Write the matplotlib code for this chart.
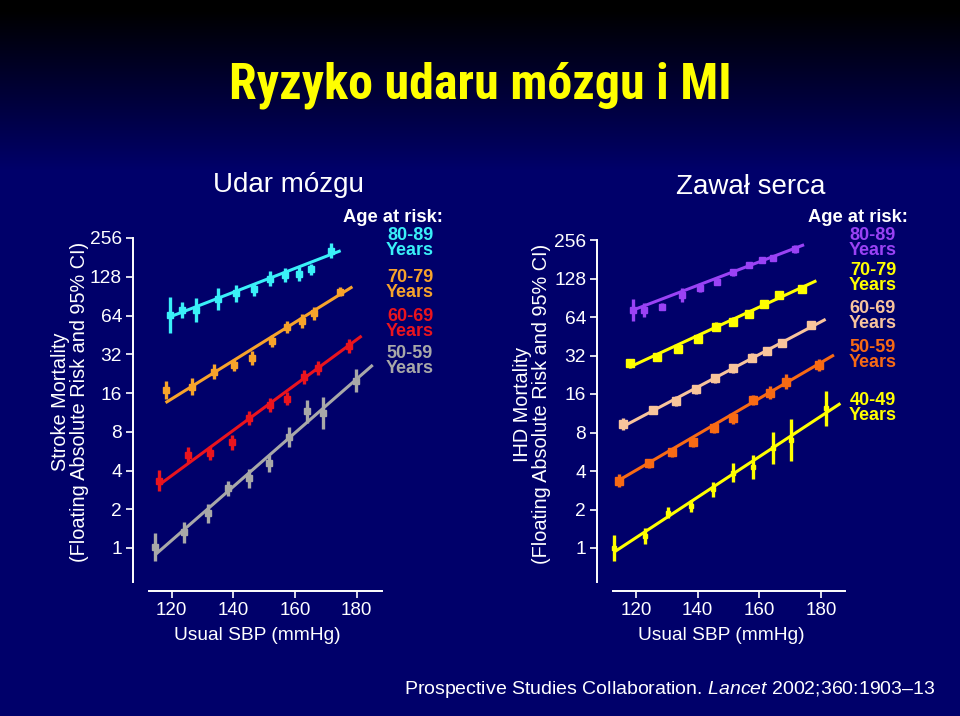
import numpy as np
import matplotlib
matplotlib.use('Agg')
import matplotlib.pyplot as plt
from matplotlib.ticker import FixedLocator, NullLocator, FixedFormatter

W, H = 960, 716
plt.rcParams['font.family'] = ['Liberation Sans', 'DejaVu Sans']
plt.rcParams['mathtext.fontset'] = 'custom'
plt.rcParams['mathtext.it'] = 'Liberation Sans:italic'
plt.rcParams['mathtext.rm'] = 'Liberation Sans'

# ---------------- data ----------------
y_ticks = [1, 2, 4, 8, 16, 32, 64, 128, 256]
x_ticks = [120, 140, 160, 180]

# Stroke panel (Udar mózgu)
st80_x = [119.3, 123.2, 127.8, 134.9, 140.9, 146.8, 152.0, 156.6, 161.2, 165.3, 171.8]
st80_y = [64.5, 70.6, 70.6, 86, 95, 102, 124, 132, 134, 146, 204]
st80_f = [1.37, 1.16, 1.24, 1.21, 1.16, 1.13, 1.14, 1.13, 1.13, 1.11, 1.14]
st80_line_x = [119.3, 174.8]
st80_line_y = [62.3, 204]

st70_x = [118.0, 126.6, 133.7, 140.3, 146.0, 152.5, 157.4, 162.1, 166.3, 174.5]
st70_y = [16.9, 17.9, 23.4, 26.4, 30.1, 40.5, 52.4, 58, 66.6, 98]
st70_f = [1.18, 1.16, 1.14, 1.11, 1.13, 1.11, 1.11, 1.13, 1.12, 1.09]
st70_line_x = [118.0, 178.6]
st70_line_y = [13.45, 107]

st60_x = [115.9, 125.3, 132.4, 139.5, 145.2, 152.0, 157.4, 162.8, 167.5, 177.5]
st60_y = [3.33, 5.28, 5.5, 6.63, 10.2, 12.9, 14.5, 21.4, 25.1, 37.1]
st60_f = [1.21, 1.16, 1.13, 1.14, 1.13, 1.13, 1.13, 1.13, 1.14, 1.14]
st60_line_x = [115.9, 181.6]
st60_line_y = [3.09, 44.4]

st50_x = [114.5, 124.0, 131.8, 138.4, 145.2, 151.7, 157.9, 163.9, 169.2, 179.7]
st50_y = [1.02, 1.32, 1.86, 2.91, 3.48, 4.55, 7.32, 11.5, 11.2, 19.9]
st50_f = [1.29, 1.20, 1.18, 1.14, 1.18, 1.16, 1.20, 1.23, 1.33, 1.23]
st50_line_x = [114.5, 185.2]
st50_line_y = [0.88, 26.4]

# IHD panel (Zawał serca)
ihd80_x = [119.1, 122.7, 128.4, 134.9, 140.8, 146.4, 151.6, 156.5, 160.9, 164.5, 171.5]
ihd80_y = [72.6, 72.6, 77.1, 95.2, 108.5, 121, 143, 163, 178.5, 184.4, 218]
ihd80_f = [1.22, 1.14, 1.06, 1.13, 1.08, 1.06, 1.07, 1.06, 1.05, 1.06, 1.08]
ihd80_line_x = [119.1, 174.5]
ihd80_line_y = [72.6, 235]

ihd70_x = [118.0, 126.7, 133.6, 140.1, 146.0, 151.6, 156.8, 161.4, 166.3, 173.9]
ihd70_y = [27.8, 31.3, 36, 42.8, 53.7, 58.8, 67.2, 81, 95, 106]
ihd70_f = [1.09, 1.06, 1.07, 1.07, 1.08, 1.08, 1.07, 1.07, 1.07, 1.07]
ihd70_line_x = [117.8, 178.5]
ihd70_line_y = [25.9, 123]

ihd60_x = [115.9, 125.6, 133.0, 139.5, 145.7, 151.4, 157.6, 162.5, 167.4, 176.6]
ihd60_y = [9.32, 12.0, 14.1, 17.4, 21.2, 25.4, 30.8, 34.7, 40.3, 55.4]
ihd60_f = [1.11, 1.08, 1.09, 1.09, 1.09, 1.09, 1.09, 1.08, 1.07, 1.08]
ihd60_line_x = [115.7, 181.5]
ihd60_line_y = [8.88, 61.4]

ihd50_x = [114.6, 124.3, 131.6, 138.4, 145.4, 151.6, 157.9, 163.6, 168.8, 179.3]
ihd50_y = [3.36, 4.6, 5.6, 6.77, 8.7, 10.3, 14.4, 16.4, 20, 26.9]
ihd50_f = [1.13, 1.08, 1.08, 1.09, 1.09, 1.10, 1.09, 1.12, 1.15, 1.12]
ihd50_line_x = [114.2, 184.2]
ihd50_line_y = [3.36, 32.3]

ihd40_x = [112.8, 122.9, 130.5, 137.8, 144.9, 151.6, 158.1, 164.5, 170.3, 181.5]
ihd40_y = [1.0, 1.24, 1.89, 2.13, 2.87, 3.88, 4.32, 6.02, 7.0, 12.4]
ihd40_f = [1.27, 1.16, 1.11, 1.11, 1.14, 1.18, 1.24, 1.33, 1.47, 1.37]
ihd40_line_x = [113.2, 186.3]
ihd40_line_y = [0.94, 13.5]

stroke_labels = ['80-89', '70-79', '60-69', '50-59']
ihd_labels = ['80-89', '70-79', '60-69', '50-59', '40-49']

# ---------------- styles ----------------
C_CYAN, C_ORANGE, C_RED, C_GRAY = '#3AF0F8', '#F7A32B', '#EA141E', '#A8A8A8'
C_PURPLE, C_YELLOW, C_PEACH, C_ORRED = '#9A42F5', '#FFFF00', '#F8C49C', '#F86A14'
NAVY = np.array([0, 0, 106]) / 255.0

fig = plt.figure(figsize=(W / 100, H / 100), dpi=100)

# background gradient
bg = fig.add_axes([0, 0, 1, 1], zorder=-10)
rows = np.arange(H)
t = np.clip((rows - 10) / 160.0, 0, 1)[:, None]
img = (t * NAVY[None, :])[:, None, :] * np.ones((1, 2, 1))
bg.imshow(img, aspect='auto', extent=[0, 1, 0, 1], origin='upper')
bg.set_axis_off()


def fx(px):
    return px / W


def fy(py):
    return 1 - py / H


def make_axes(left_px, right_px, x120_px, px_per20, y1_px, px_per_dbl, xb_left):
    lo, hi = -0.88, 8.1
    top_px = y1_px - hi * px_per_dbl
    bot_px = y1_px - lo * px_per_dbl
    ax = fig.add_axes([fx(left_px), fy(bot_px), (right_px - left_px) / W, (bot_px - top_px) / H])
    ax.set_facecolor('none')
    ax.set_yscale('log', base=2)
    ax.set_ylim(2 ** lo, 2 ** hi)
    x0 = 120 + (left_px - x120_px) / px_per20 * 20
    x1 = 120 + (right_px - x120_px) / px_per20 * 20
    ax.set_xlim(x0, x1)
    ax.yaxis.set_major_locator(FixedLocator(y_ticks))
    ax.yaxis.set_major_formatter(FixedFormatter([str(v) for v in y_ticks]))
    ax.yaxis.set_minor_locator(NullLocator())
    ax.xaxis.set_major_locator(FixedLocator(x_ticks))
    for s in ('top', 'right'):
        ax.spines[s].set_visible(False)
    ax.spines['left'].set_color('white')
    ax.spines['left'].set_linewidth(1.4)
    ax.spines['left'].set_bounds(2 ** lo, 256)
    ax.spines['bottom'].set_color('white')
    ax.spines['bottom'].set_linewidth(1.4)
    ax.spines['bottom'].set_position(('outward', 6.5))
    ax.spines['bottom'].set_bounds(120 + (xb_left - x120_px) / px_per20 * 20, x1)
    ax.tick_params(axis='y', direction='out', length=5, width=1.2, color='white',
                   labelcolor='white', labelsize=13.8, pad=3)
    ax.tick_params(axis='x', direction='out', length=5, width=1.2, color='white',
                   labelcolor='white', labelsize=13.5, pad=3)
    ax.set_xlabel('Usual SBP (mmHg)', color='white', fontsize=13.8, labelpad=5.5)
    return ax


def draw_series(ax, x, y, f, lx, ly, color, ms):
    x = np.asarray(x); y = np.asarray(y); f = np.asarray(f)
    ax.plot(lx, ly, '-', color=color, lw=2.2, solid_capstyle='butt', zorder=2)
    ax.errorbar(x, y, yerr=[y - y / f, y * f - y], fmt='none', ecolor=color,
                elinewidth=2.4, capsize=0, zorder=3)
    ax.plot(x, y, 's', ms=ms, color=color, mec=color, zorder=4)


axL = make_axes(133, 381.7, 171.7, 61.67, 548, 38.75, 149)
draw_series(axL, st80_x, st80_y, st80_f, st80_line_x, st80_line_y, C_CYAN, 4)
draw_series(axL, st70_x, st70_y, st70_f, st70_line_x, st70_line_y, C_ORANGE, 4.5)
draw_series(axL, st60_x, st60_y, st60_f, st60_line_x, st60_line_y, C_RED, 4.5)
draw_series(axL, st50_x, st50_y, st50_f, st50_line_x, st50_line_y, C_GRAY, 4.5)

axR = make_axes(597.3, 845, 636, 61.67, 548, 38.5, 612.7)
draw_series(axR, ihd80_x, ihd80_y, ihd80_f, ihd80_line_x, ihd80_line_y, C_PURPLE, 5)
draw_series(axR, ihd70_x, ihd70_y, ihd70_f, ihd70_line_x, ihd70_line_y, C_YELLOW, 6)
draw_series(axR, ihd60_x, ihd60_y, ihd60_f, ihd60_line_x, ihd60_line_y, C_PEACH, 6)
draw_series(axR, ihd50_x, ihd50_y, ihd50_f, ihd50_line_x, ihd50_line_y, C_ORRED, 5.5)
draw_series(axR, ihd40_x, ihd40_y, ihd40_f, ihd40_line_x, ihd40_line_y, C_YELLOW, 3)

# y labels
fig.text(fx(70), fy(402), 'Stroke Mortality\n(Floating Absolute Risk and 95% CI)',
         rotation=90, ha='center', va='center', color='white', fontsize=14.3,
         linespacing=0.98, multialignment='center')
fig.text(fx(532), fy(404), 'IHD Mortality\n(Floating Absolute Risk and 95% CI)',
         rotation=90, ha='center', va='center', color='white', fontsize=14.3,
         linespacing=0.98, multialignment='center')

# panel titles
fig.text(fx(288), fy(185), 'Udar mózgu', ha='center', va='center', color='white', fontsize=20)
fig.text(fx(751), fy(187), 'Zawał serca', ha='center', va='center', color='white', fontsize=20)

# legends
fig.text(fx(393), fy(218), 'Age at risk:', ha='center', va='center', color='white',
         fontsize=13.2, fontweight='bold')
for lab, col, py in zip(stroke_labels, [C_CYAN, C_ORANGE, C_RED, C_GRAY], [243, 285, 324, 361]):
    fig.text(fx(410), fy(py), lab + '\nYears', ha='center', va='center', color=col,
             fontsize=13, fontweight='bold', linespacing=0.9)
fig.text(fx(858), fy(218), 'Age at risk:', ha='center', va='center', color='white',
         fontsize=13.2, fontweight='bold')
for lab, col, py in zip(ihd_labels, [C_PURPLE, C_YELLOW, C_PEACH, C_ORRED, C_YELLOW],
                        [243, 278, 316, 355, 408]):
    fig.text(fx(873), fy(py), lab + '\nYears', ha='center', va='center', color=col,
             fontsize=13, fontweight='bold', linespacing=0.9)

# main title
fig.text(fx(480), fy(85), 'Ryzyko udaru mózgu i MI', ha='center', va='center',
         color='#FFFF00', fontsize=36, fontweight='bold',
         family=['Liberation Sans Narrow', 'Roboto Condensed', 'Open Sans Condensed',
                 'DejaVu Sans Condensed', 'Liberation Sans'])

# footer
fig.text(fx(670), fy(690), r'Prospective Studies Collaboration. $\mathit{Lancet}$ 2002;360:1903–13',
         ha='center', va='center', color='white', fontsize=14)

fig.savefig('out.png', dpi=100, facecolor='black')
